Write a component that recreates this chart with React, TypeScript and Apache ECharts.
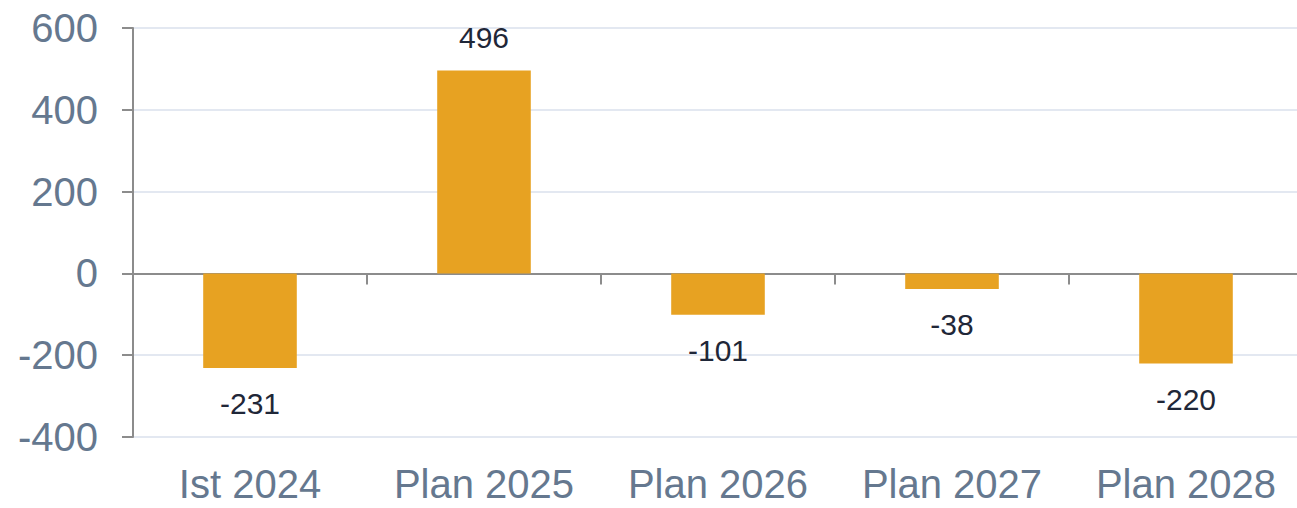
import React, { useEffect, useRef } from "react";
import * as echarts from "echarts";

const categories = ["Ist 2024", "Plan 2025", "Plan 2026", "Plan 2027", "Plan 2028"];
const values = [-231, 496, -101, -38, -220];
const yTicks = { min: -400, max: 600, interval: 200 };

const FONT = "'Liberation Sans', Arial, sans-serif";

export default function App() {
  const ref = useRef<HTMLDivElement>(null);
  useEffect(() => {
    if (!ref.current) return;
    const chart = echarts.init(ref.current, null, { renderer: "svg" });
    chart.setOption({
      animation: false,
      backgroundColor: "#ffffff",
      grid: { left: 133, right: 7, top: 28, bottom: 71, containLabel: false },
      xAxis: [
        {
          type: "category",
          data: categories,
          position: "bottom",
          axisLine: { show: false, onZero: false },
          axisTick: { show: false },
          axisLabel: { color: "#65788f", fontSize: 40, fontFamily: FONT, margin: 27, interval: 0 },
        },
        {
          type: "category",
          data: categories,
          position: "bottom",
          axisLine: { show: true, onZero: true, lineStyle: { color: "#8c8c8c", width: 2 } },
          axisTick: { show: true, length: 11, lineStyle: { color: "#8c8c8c", width: 2 } },
          axisLabel: { show: false },
        },
      ],
      yAxis: {
        type: "value",
        min: yTicks.min,
        max: yTicks.max,
        interval: yTicks.interval,
        axisLine: { show: true, lineStyle: { color: "#8c8c8c", width: 2 } },
        axisTick: { show: true, length: 11, lineStyle: { color: "#8c8c8c", width: 2 } },
        splitLine: { show: true, lineStyle: { color: "#e3e8f1", width: 2 } },
        axisLabel: { color: "#65788f", fontSize: 40, fontFamily: FONT, margin: 35 },
      },
      series: [
        {
          type: "bar",
          xAxisIndex: 0,
          barWidth: "40%",
          itemStyle: { color: "#e7a222" },
          data: values.map((v) => ({
            value: v,
            label: { position: v >= 0 ? "top" : "bottom", distance: v >= 0 ? 18 : 21 },
          })),
          label: {
            show: true,
            color: "#1f2738",
            fontSize: 30,
            fontFamily: FONT,
          },
        },
      ],
    });
    return () => chart.dispose();
  }, []);
  return (
    <div style={{ position: "absolute", left: 0, top: 0, width: 1297, height: 508, overflow: "hidden" }}>
      <div ref={ref} style={{ width: 1310, height: 508 }} />
    </div>
  );
}
